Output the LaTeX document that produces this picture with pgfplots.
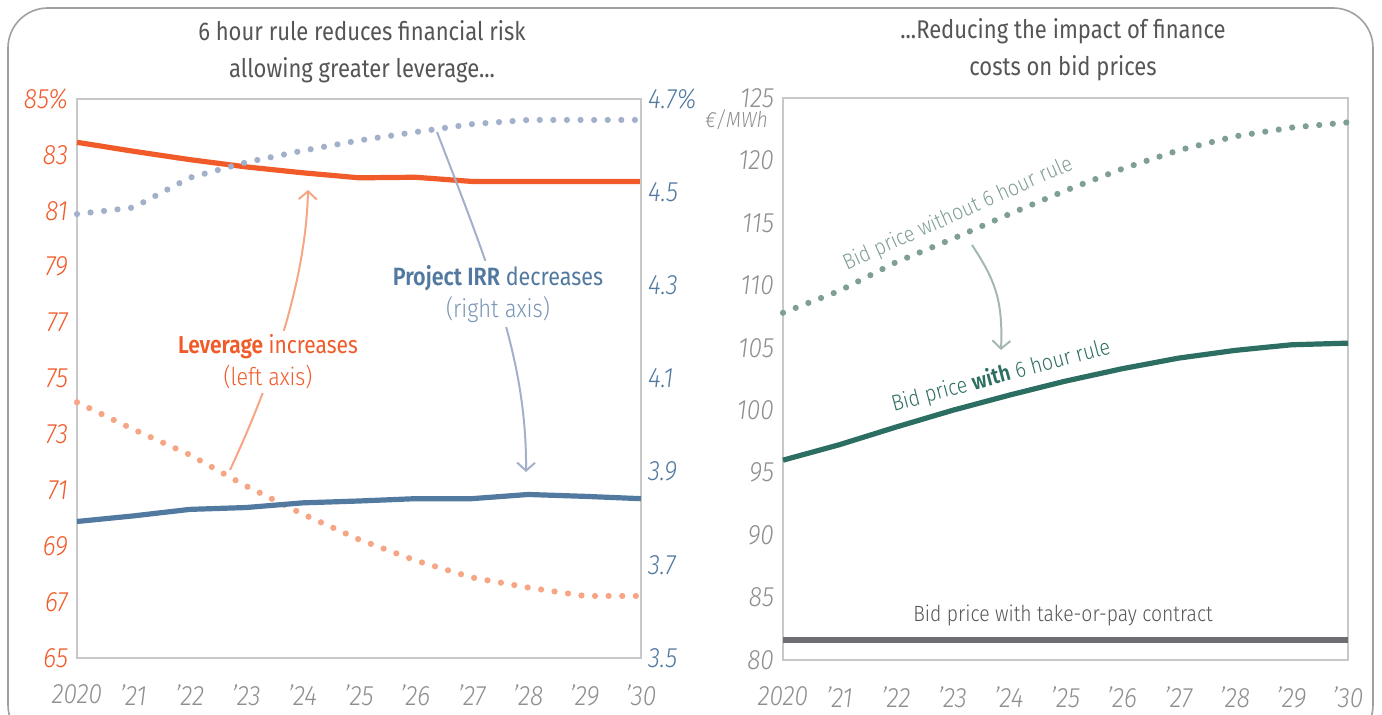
\documentclass[border=0pt]{standalone}
\usepackage{pgfplots}
\pgfplotsset{compat=1.18}
\usepackage{fontspec}
\setmainfont{Fira Sans}[UprightFont=* Light, ItalicFont=* Light Italic, BoldFont=* SemiBold, FakeStretch=0.88]
\newfontfamily\regfont{Fira Sans}[BoldFont=* SemiBold, FakeStretch=0.86]
\usetikzlibrary{arrows.meta}

\definecolor{orangeS}{HTML}{F15A29}
\definecolor{orangeL}{HTML}{F6A585}
\definecolor{blueS}{HTML}{5279A0}
\definecolor{blueT}{HTML}{7A95B5}
\definecolor{blueL}{HTML}{A3B0CA}
\definecolor{greenS}{HTML}{2D6E62}
\definecolor{greenL}{HTML}{7E9E97}
\definecolor{greenA}{HTML}{A3B8B2}
\definecolor{lineGray}{HTML}{6D6E71}
\definecolor{titleGray}{HTML}{555555}
\definecolor{tickGray}{HTML}{8E8E8E}
\definecolor{frameGray}{HTML}{C8C8C8}
\definecolor{boxGray}{HTML}{A0A0A0}

\pgfplotsset{
  panel/.style={
    anchor=south west, scale only axis,
    xmin=2020, xmax=2030,
    axis line style={draw=frameGray, line width=0.8pt},
    major tick length=0pt,
    xtick={2020,...,2030},
    xticklabels={2020,’21,’22,’23,’24,’25,’26,’27,’28,’29,’30},
    xticklabel style={tickGray, font=\itshape\fontsize{14}{14}\selectfont, yshift=-10pt},
    yticklabel style={font=\itshape\fontsize{14}{14}\selectfont},
    clip=false,
  },
  dotted line/.style={line width=3.1pt, line cap=round, dash pattern=on 0pt off 6.8pt},
  solid line/.style={line width=2.6pt, line join=round},
}

\begin{document}
\begin{tikzpicture}
\useasboundingbox (0,0) rectangle (691pt,357.5pt);

% ---- left panel: leverage (left axis)
\begin{axis}[panel, at={(38.5pt,28.5pt)}, width=282pt, height=279.5pt,
  ymin=65, ymax=85,
  ytick={65,67,...,85},
  yticklabels={65,67,69,71,73,75,77,79,81,83,85\%},
  yticklabel style={orangeS, xshift=-1pt},
]
\addplot[orangeL, dotted line] coordinates {
  (2020,74.15) (2021,73.18) (2022,72.27) (2023,71.15) (2024,70.15) (2025,69.24)
  (2026,68.49) (2027,67.88) (2028,67.52) (2029,67.22) (2030,67.22)};
\addplot[orangeS, solid line] coordinates {
  (2020,83.45) (2021,83.13) (2022,82.83) (2023,82.57) (2024,82.36) (2025,82.18)
  (2026,82.20) (2027,82.05) (2028,82.05) (2029,82.05) (2030,82.05)};
\end{axis}

% ---- left panel: project IRR (right axis)
\begin{axis}[panel, at={(38.5pt,28.5pt)}, width=282pt, height=279.5pt,
  axis x line=none, axis y line*=right,
  ymin=3.5, ymax=4.7,
  ytick={3.5,3.7,3.9,4.1,4.3,4.5,4.7},
  yticklabels={3.5,3.7,3.9,4.1,4.3,4.5,4.7\%},
  yticklabel style={blueS, xshift=0pt},
]
\addplot[blueL, dotted line] coordinates {
  (2020,4.453) (2021,4.467) (2022,4.531) (2023,4.564) (2024,4.589) (2025,4.611)
  (2026,4.629) (2027,4.646) (2028,4.655) (2029,4.655) (2030,4.655)};
\addplot[blueS, solid line] coordinates {
  (2020,3.793) (2021,3.805) (2022,3.819) (2023,3.823) (2024,3.833) (2025,3.837)
  (2026,3.842) (2027,3.842) (2028,3.851) (2029,3.847) (2030,3.842)};
\end{axis}

% ---- right panel: bid prices
\begin{axis}[panel, at={(391.5pt,27.5pt)}, width=282.5pt, height=281pt,
  ymin=80, ymax=125,
  ytick={80,85,...,125},
  yticklabels={80,85,90,95,100,105,110,115,120,125},
  yticklabel style={tickGray, xshift=-1pt},
]
\addplot[lineGray, solid line] coordinates {(2020,81.6) (2030,81.6)};
\addplot[greenL, dotted line] coordinates {
  (2020,107.8) (2021,109.56) (2022,111.85) (2023,113.72) (2024,115.69) (2025,117.59)
  (2026,119.32) (2027,120.81) (2028,121.93) (2029,122.63) (2030,123.05)};
\addplot[greenS, solid line] coordinates {
  (2020,96.0) (2021,97.24) (2022,98.65) (2023,99.99) (2024,101.2) (2025,102.33)
  (2026,103.32) (2027,104.17) (2028,104.79) (2029,105.24) (2030,105.37)};
\end{axis}

% ---- annotations, in reference pixel coordinates
\begin{scope}[x=0.5pt, y=-0.5pt, yshift=357.5pt]
  \draw[boxGray, line width=0.8pt, rounded corners=20pt] (8,8) rectangle (1373,745);

  \node[titleGray, align=center, font=\regfont\fontsize{12.8}{18.5}\selectfont] at (362,52)
    {6 hour rule reduces financial risk\\allowing greater leverage...};
  \node[titleGray, align=center, font=\regfont\fontsize{12.8}{18.5}\selectfont] at (1063,50)
    {...Reducing the impact of finance\\costs on bid prices};

  \draw[orangeL, line width=1pt, -{Straight Barb[length=4pt, width=9pt]}]
    (230,470) .. controls (272,380) and (306,280) .. (308,190);
  \draw[blueL, line width=1pt, -{Straight Barb[length=4pt, width=9pt]}]
    (437,132) .. controls (490,270) and (527,360) .. (526,472);
  \draw[greenA, line width=1pt, -{Straight Barb[length=4pt, width=9pt]}]
    (972,245) .. controls (995,280) and (1003,300) .. (1001,350);

  \node[fill=white, inner sep=2pt, align=center, font=\fontsize{12.2}{16}\selectfont] at (268,362)
    {\textcolor{orangeS}{\regfont\textbf{Leverage} increases}\\\textcolor{orangeS}{(left axis)}};
  \node[fill=white, inner sep=2pt, align=center, font=\fontsize{12.5}{16}\selectfont] at (498,294)
    {\textcolor{blueS}{\regfont\textbf{Project IRR} decreases}\\\textcolor{blueT}{(right axis)}};

  \node[greenL, rotate=24, font=\fontsize{11}{12}\selectfont] at (958,214)
    {Bid price without 6 hour rule};
  \node[greenS, rotate=15, font=\fontsize{11.2}{12}\selectfont] at (1001,376)
    {Bid price \textbf{with} 6 hour rule};
  \node[titleGray, font=\fontsize{11}{12}\selectfont] at (1063,615)
    {Bid price with take-or-pay contract};
  \node[tickGray, anchor=east, font=\itshape\fontsize{11}{11}\selectfont] at (775,120)
    {€/MWh};
\end{scope}
\end{tikzpicture}
\end{document}
